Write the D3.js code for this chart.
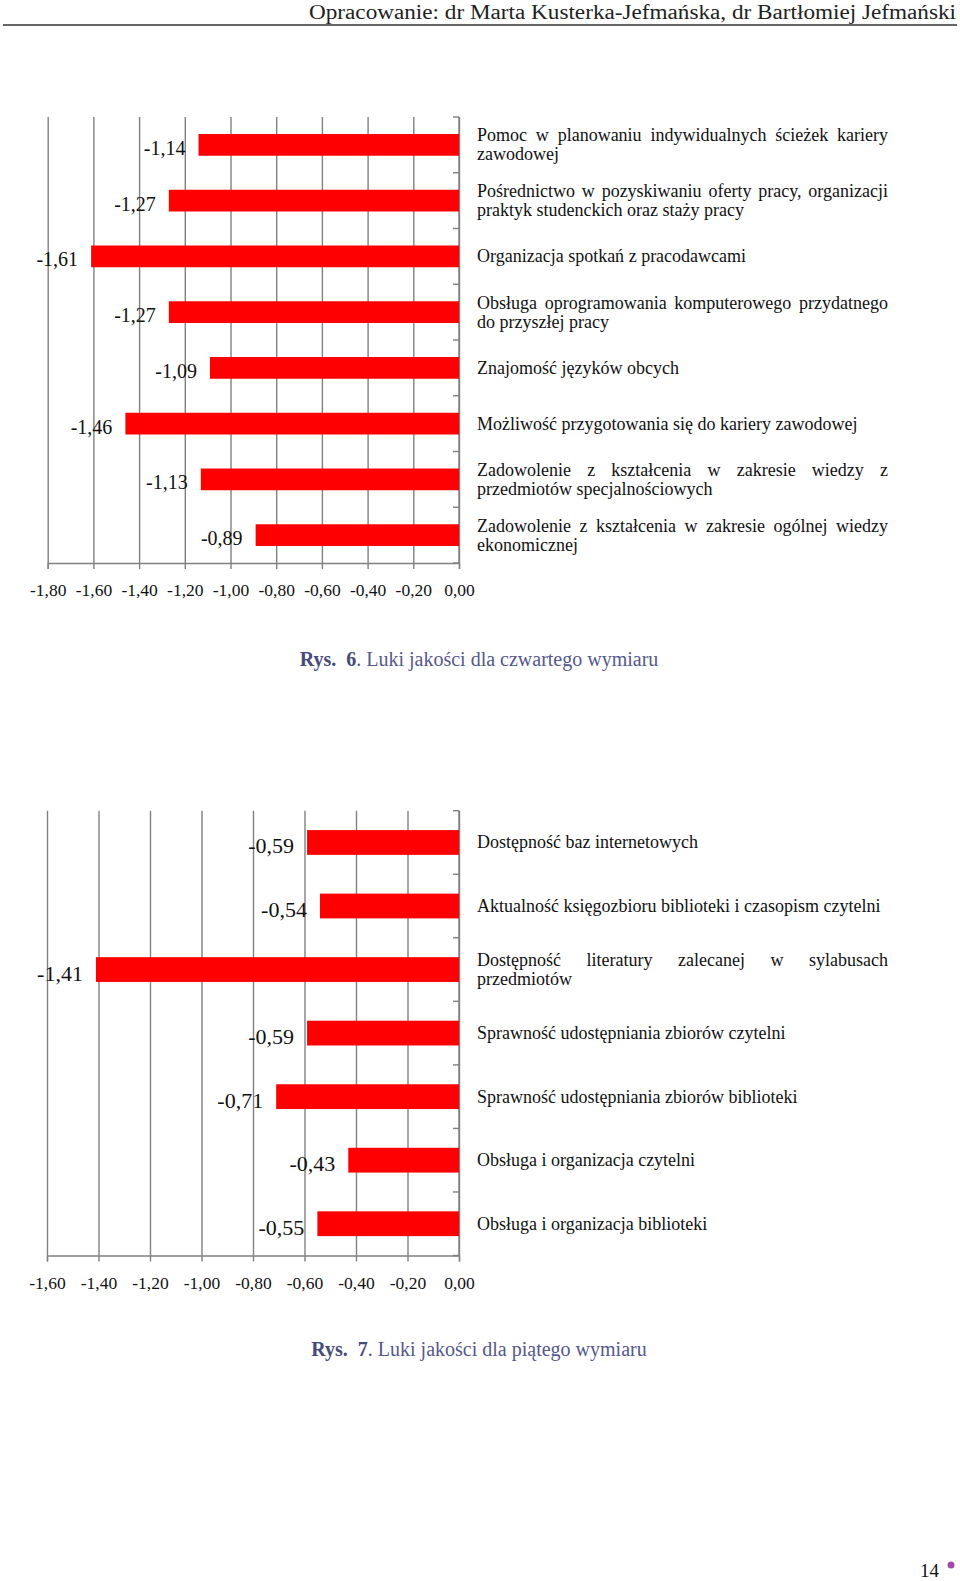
<!DOCTYPE html>
<html lang="pl">
<head>
<meta charset="UTF-8">
<title>Luki jakości</title>
<style>
  body { margin: 0; background: #fff; }
  svg text { font-family: "Liberation Serif", "DejaVu Serif", serif; fill: #111; }
</style>
</head>
<body>
<svg id="page" width="960" height="1581"></svg>
<script src="https://d3js.org/d3.v7.min.js"></script>
<script>
// Rys. 6 - czwarty wymiar (\n = line break as in the original layout)
const categories6 = [
  "Pomoc w planowaniu indywidualnych ścieżek kariery\nzawodowej",
  "Pośrednictwo w pozyskiwaniu oferty pracy, organizacji\npraktyk studenckich oraz staży pracy",
  "Organizacja spotkań z pracodawcami",
  "Obsługa oprogramowania komputerowego przydatnego\ndo przyszłej pracy",
  "Znajomość języków obcych",
  "Możliwość przygotowania się do kariery zawodowej",
  "Zadowolenie z kształcenia w zakresie wiedzy z\nprzedmiotów specjalnościowych",
  "Zadowolenie z kształcenia w zakresie ogólnej wiedzy\nekonomicznej"
];
const values6 = [-1.14, -1.27, -1.61, -1.27, -1.09, -1.46, -1.13, -0.89];
const ticks6 = [-1.8, -1.6, -1.4, -1.2, -1.0, -0.8, -0.6, -0.4, -0.2, 0];

// Rys. 7 - piąty wymiar
const categories7 = [
  "Dostępność baz internetowych",
  "Aktualność księgozbioru biblioteki i czasopism czytelni",
  "Dostępność literatury zalecanej w sylabusach\nprzedmiotów",
  "Sprawność udostępniania zbiorów czytelni",
  "Sprawność udostępniania zbiorów biblioteki",
  "Obsługa i organizacja czytelni",
  "Obsługa i organizacja biblioteki"
];
const values7 = [-0.59, -0.54, -1.41, -0.59, -0.71, -0.43, -0.55];
const ticks7 = [-1.6, -1.4, -1.2, -1.0, -0.8, -0.6, -0.4, -0.2, 0];

const svg = d3.select("#page");
const pl = d3.formatLocale({ decimal: ",", thousands: " ", grouping: [3], currency: ["", ""], minus: "-" });
const fmt = pl.format(".2f");
const gridColor = "#808080";

// header
svg.append("text")
  .attr("x", 309).attr("y", 19)
  .attr("textLength", 647).attr("lengthAdjust", "spacingAndGlyphs")
  .style("font-size", "20px").style("fill", "#222")
  .text("Opracowanie: dr Marta Kusterka-Jefmańska, dr Bartłomiej Jefmański");
svg.append("line")
  .attr("x1", 3).attr("x2", 957).attr("y1", 25).attr("y2", 25)
  .attr("stroke", "#333").attr("stroke-width", 1.6);

function drawChart(cfg) {
  const g = svg.append("g");

  const x = d3.scaleLinear()
    .domain([cfg.ticks[0], 0])
    .range([cfg.left, cfg.right]);

  const y = d3.scaleBand()
    .domain(cfg.categories)
    .range([cfg.top, cfg.bottom])
    .paddingInner(0.61)
    .paddingOuter(0.305);

  const h = cfg.bottom - cfg.top;

  // vertical grid lines
  g.append("g")
    .attr("transform", "translate(0," + cfg.bottom + ")")
    .call(d3.axisBottom(x).tickValues(cfg.ticks).tickSize(-h).tickFormat(""))
    .call(a => a.select(".domain").remove())
    .selectAll("line").attr("stroke", gridColor).attr("stroke-width", 1.4);

  // x axis with labels
  const xa = g.append("g")
    .attr("transform", "translate(0," + cfg.bottom + ")")
    .call(d3.axisBottom(x).tickValues(cfg.ticks).tickSize(6).tickFormat(fmt));
  xa.select(".domain").attr("stroke", gridColor).attr("stroke-width", 1.4);
  xa.selectAll("line").attr("stroke", gridColor).attr("stroke-width", 1.4);
  xa.selectAll("text")
    .attr("y", 33).attr("dy", null)
    .style("font-family", "Liberation Serif")
    .style("font-size", "17.5px").style("fill", "#111");

  // category axis at 0 (right side)
  const bounds = d3.range(cfg.categories.length + 1).map(i => cfg.top + i * y.step());
  g.append("line")
    .attr("x1", x(0)).attr("x2", x(0))
    .attr("y1", cfg.top).attr("y2", cfg.bottom)
    .attr("stroke", gridColor).attr("stroke-width", 1.4);
  g.selectAll(".cat-tick").data(bounds).enter().append("line")
    .attr("x1", x(0) - 6).attr("x2", x(0))
    .attr("y1", d => d).attr("y2", d => d)
    .attr("stroke", gridColor).attr("stroke-width", 1.4);

  // bars
  g.selectAll(".bar").data(cfg.values).enter().append("rect")
    .attr("x", d => x(d))
    .attr("y", (d, i) => y(cfg.categories[i]))
    .attr("width", d => x(0) - x(d))
    .attr("height", y.bandwidth())
    .attr("fill", "#ff0000");

  // value labels
  g.selectAll(".val").data(cfg.values).enter().append("text")
    .attr("x", d => x(d) - 13)
    .attr("y", (d, i) => y(cfg.categories[i]) + y.bandwidth() / 2 + cfg.valueDy)
    .attr("text-anchor", "end")
    .style("font-size", cfg.valueSize + "px")
    .text(d => fmt(d));

  // category labels, justified like in the document
  const labelX = 477, labelW = 411, lh = 19, fs = 18;
  cfg.categories.forEach(cat => {
    const lines = cat.split("\n");
    const mid = y(cat) + y.bandwidth() / 2 + 6;
    const y0 = mid - (lines.length - 1) * lh / 2;
    lines.forEach((line, li) => {
      const words = line.split(" ");
      const yy = y0 + li * lh;
      const last = li === lines.length - 1;
      const nodes = words.map(w => g.append("text")
        .attr("y", yy).style("font-size", fs + "px").text(w));
      const widths = nodes.map(n => n.node().getComputedTextLength());
      const gap = last ? fs * 0.25 : (labelW - d3.sum(widths)) / (words.length - 1);
      let xx = labelX;
      nodes.forEach((n, i) => { n.attr("x", xx); xx += widths[i] + gap; });
    });
  });

  // caption
  const cap = svg.append("text")
    .attr("x", 479).attr("y", cfg.captionY)
    .attr("text-anchor", "middle")
    .style("font-size", "20px");
  cap.append("tspan").style("font-weight", "bold").style("fill", "#474a78").text("Rys.");
  cap.append("tspan").attr("dx", 10).style("font-weight", "bold").style("fill", "#474a78").text(cfg.num);
  cap.append("tspan").style("fill", "#55588a").text(". " + cfg.caption);
}

drawChart({
  categories: categories6, values: values6, ticks: ticks6,
  left: 47.7, right: 459, top: 117, bottom: 563,
  valueSize: 20, valueDy: 10,
  captionY: 666, num: "6", caption: "Luki jakości dla czwartego wymiaru"
});

drawChart({
  categories: categories7, values: values7, ticks: ticks7,
  left: 47, right: 459, top: 810.7, bottom: 1255.5,
  valueSize: 22, valueDy: 11,
  captionY: 1356, num: "7", caption: "Luki jakości dla piątego wymiaru"
});

// page number
svg.append("text")
  .attr("x", 939).attr("y", 1577).attr("text-anchor", "end")
  .style("font-size", "19px")
  .text("14");
svg.append("circle")
  .attr("cx", 951).attr("cy", 1565).attr("r", 3.5)
  .attr("fill", "#a347a6");
</script>
</body>
</html>
